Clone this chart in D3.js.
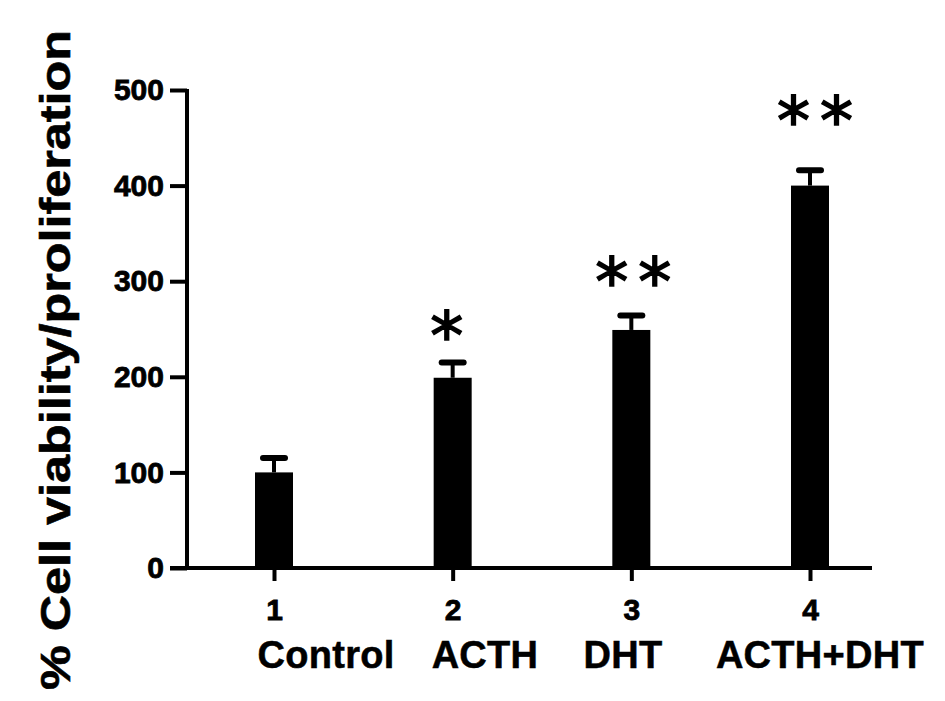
<!DOCTYPE html>
<html><head><meta charset="utf-8">
<script src="https://cdn.jsdelivr.net/npm/d3@7"></script>
<style>body{margin:0;background:#fff}svg{display:block}</style>
</head><body>
<script>
const groups = ["1", "2", "3", "4"];
const categoryNames = ["Control", "ACTH", "DHT", "ACTH+DHT"];
const means = [100, 199, 249, 400];
const errors = [15, 16, 15, 16];
const stars = ["", "*", "**", "**"];
const yTicks = [0, 100, 200, 300, 400, 500];
const yTitle = "% Cell viability/proliferation";

const W = 945, H = 701;
const svg = d3.select("body").append("svg").attr("width", W).attr("height", H);
const font = "'Liberation Sans', Arial, sans-serif";

const x = d3.scalePoint().domain(groups).range([274, 810]);
const y = d3.scaleLinear().domain([0, 500]).range([568, 90]);
const barW = 38;

// y axis
const yAxis = svg.append("g").attr("transform", "translate(187,0)")
  .call(d3.axisLeft(y).tickValues(yTicks).tickSize(17).tickPadding(6).tickFormat(d3.format("d")));
yAxis.select(".domain").attr("stroke-width", 4).attr("d", `M0,${y(0)}V${y(500)-1}`);
yAxis.selectAll(".tick line").attr("stroke-width", 4);
yAxis.selectAll(".tick text").attr("font-family", font).attr("font-weight", "bold")
  .attr("font-size", 30).attr("letter-spacing", 0).attr("fill", "#000")
  .attr("stroke", "#000").attr("stroke-width", 0.8);

// x axis
const xAxis = svg.append("g").attr("transform", `translate(0,${y(0)})`)
  .call(d3.axisBottom(x).tickSize(13).tickPadding(18));
xAxis.select(".domain").attr("stroke-width", 4).attr("d", "M170,0H872");
xAxis.selectAll(".tick line").attr("stroke-width", 4);
xAxis.selectAll(".tick text").attr("font-family", font).attr("font-weight", "bold")
  .attr("font-size", 30).attr("fill", "#000").attr("stroke", "#000").attr("stroke-width", 0.8);

// bars
svg.selectAll("rect.bar").data(means).join("rect").attr("class", "bar")
  .attr("x", (d, i) => x(groups[i]) - barW / 2).attr("width", barW)
  .attr("y", d => y(d)).attr("height", d => y(0) - y(d)).attr("fill", "#000");

// error bars
const eb = svg.selectAll("g.err").data(means).join("g").attr("class", "err");
eb.append("line").attr("x1", (d, i) => x(groups[i])).attr("x2", (d, i) => x(groups[i]))
  .attr("y1", d => y(d)).attr("y2", (d, i) => y(d + errors[i]))
  .attr("stroke", "#000").attr("stroke-width", 4);
eb.append("line").attr("x1", (d, i) => x(groups[i]) - 11).attr("x2", (d, i) => x(groups[i]) + 11)
  .attr("y1", (d, i) => y(d + errors[i])).attr("y2", (d, i) => y(d + errors[i]))
  .attr("stroke", "#000").attr("stroke-width", 6).attr("stroke-linecap", "round");

// significance stars (layout offsets above error caps)
const starLift = [0, 37, 45, 60];
const starShift = [-6, -6, 2, 5];
svg.selectAll("text.star").data(stars).join("text").attr("class", "star")
  .attr("x", (d, i) => x(groups[i]) + starShift[i] + 5)
  .attr("y", (d, i) => y(means[i] + errors[i]) - starLift[i] + 34)
  .attr("text-anchor", "middle").attr("font-family", "'DejaVu Sans', sans-serif")
  .attr("font-size", 66).attr("letter-spacing", 10)
  .attr("stroke", "#000").attr("stroke-width", 1.6)
  .text(d => d);

// category names
const nameCenters = [326, 485, 623, 820];
svg.selectAll("text.cat").data(categoryNames).join("text").attr("class", "cat")
  .attr("x", (d, i) => nameCenters[i]).attr("y", 668)
  .attr("text-anchor", "middle").attr("font-family", font).attr("font-weight", "bold")
  .attr("font-size", 38).attr("letter-spacing", 0.3)
  .attr("stroke", "#000").attr("stroke-width", 0.5).text(d => d);

// y title
svg.append("text").attr("transform", "translate(70,360) rotate(-90)")
  .attr("text-anchor", "middle").attr("font-family", font).attr("font-weight", "bold")
  .attr("font-size", 42).attr("textLength", 660).attr("lengthAdjust", "spacingAndGlyphs")
  .attr("stroke", "#000").attr("stroke-width", 0.6)
  .text(yTitle);
</script>
</body></html>
